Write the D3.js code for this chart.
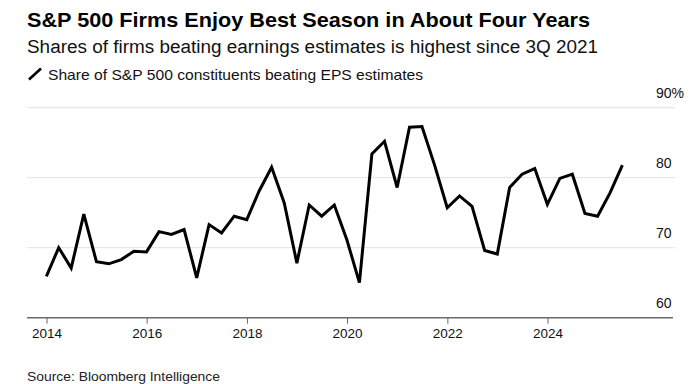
<!DOCTYPE html>
<html>
<head>
<meta charset="utf-8">
<script src="https://cdn.jsdelivr.net/npm/d3@7"></script>
<style>
  body { margin: 0; background: #fff; }
  svg { display: block; font-family: "Liberation Sans", Arial, sans-serif; }
</style>
</head>
<body>
<div id="chart"></div>
<script>
// quarterly share of S&P 500 members beating EPS estimates (%)
var quarters = [
  "2013-12-31","2014-03-31","2014-06-30","2014-09-30",
  "2014-12-31","2015-03-31","2015-06-30","2015-09-30",
  "2015-12-31","2016-03-31","2016-06-30","2016-09-30",
  "2016-12-31","2017-03-31","2017-06-30","2017-09-30",
  "2017-12-31","2018-03-31","2018-06-30","2018-09-30",
  "2018-12-31","2019-03-31","2019-06-30","2019-09-30",
  "2019-12-31","2020-03-31","2020-06-30","2020-09-30",
  "2020-12-31","2021-03-31","2021-06-30","2021-09-30",
  "2021-12-31","2022-03-31","2022-06-30","2022-09-30",
  "2022-12-31","2023-03-31","2023-06-30","2023-09-30",
  "2023-12-31","2024-03-31","2024-06-30","2024-09-30",
  "2024-12-31","2025-03-31","2025-06-30"
];
var beatShare = [
  65.9, 70.0, 67.1, 74.8,
  68.0, 67.7, 68.3, 69.5,
  69.4, 72.3, 71.9, 72.6,
  65.7, 73.3, 72.1, 74.5,
  74.0, 78.1, 81.5, 76.4,
  67.8, 76.1, 74.5, 76.1,
  71.1, 65.0, 83.4, 85.2,
  78.6, 87.2, 87.3, 81.8,
  75.7, 77.4, 75.9, 69.6,
  69.1, 78.6, 80.5, 81.3,
  76.2, 79.9, 80.5, 74.9,
  74.5, 77.8, 81.8
];
var yTicks = [60, 70, 80, 90];
var xTickYears = [2014, 2016, 2018, 2020, 2022, 2024];

var title = "S&P 500 Firms Enjoy Best Season in About Four Years";
var subtitle = "Shares of firms beating earnings estimates is highest since 3Q 2021";
var legendLabel = "Share of S&P 500 constituents beating EPS estimates";
var source = "Source: Bloomberg Intelligence";

var W = 695, H = 384;
var plotLeft = 27, plotRight = 675;

var svg = d3.select("#chart").append("svg")
  .attr("width", W)
  .attr("height", H);

var parse = d3.timeParse("%Y-%m-%d");
var data = quarters.map(function (q, i) {
  return { date: parse(q), value: beatShare[i] };
});

// x anchored on the 2014 and 2024 ticks
var x = d3.scaleTime()
  .domain([new Date(2014, 0, 1), new Date(2024, 0, 1)])
  .range([46.5, 547.5]);

var y = d3.scaleLinear()
  .domain([60, 90])
  .range([317.7, 107.7]);

// text helper, squeezes text to a measured width
function addText(str, opts) {
  var t = svg.append("text")
    .attr("x", opts.x)
    .attr("y", opts.y)
    .attr("font-size", opts.size)
    .attr("font-weight", opts.weight || "normal")
    .attr("fill", opts.fill || "#000")
    .text(str);
  if (opts.width) {
    t.attr("textLength", opts.width).attr("lengthAdjust", "spacingAndGlyphs");
  }
  return t;
}

addText(title, { x: 27, y: 26.7, size: 21, weight: "bold", width: 563 });
addText(subtitle, { x: 27, y: 53.3, size: 18, fill: "#111", width: 571 });

// legend
svg.append("line")
  .attr("x1", 29).attr("y1", 79.5)
  .attr("x2", 41).attr("y2", 68.5)
  .attr("stroke", "#000")
  .attr("stroke-width", 2.6);
addText(legendLabel, { x: 48, y: 79.5, size: 15, fill: "#111", width: 375 });

// gridlines
svg.append("g")
  .selectAll("line")
  .data(yTicks.slice(1))
  .join("line")
  .attr("x1", plotLeft).attr("x2", plotRight)
  .attr("y1", function (d) { return y(d); })
  .attr("y2", function (d) { return y(d); })
  .attr("stroke", "#e2e2e2")
  .attr("stroke-width", 1);

// y labels sit above their gridlines
svg.append("g")
  .selectAll("text")
  .data(yTicks)
  .join("text")
  .attr("x", 656)
  .attr("y", function (d) { return y(d) - 10; })
  .attr("font-size", 14)
  .attr("fill", "#111")
  .text(function (d) { return d === 90 ? d + "%" : d; });

// x axis
var xAxis = d3.axisBottom(x)
  .tickValues(xTickYears.map(function (yr) { return new Date(yr, 0, 1); }))
  .tickFormat(d3.timeFormat("%Y"))
  .tickSize(6)
  .tickPadding(5);

var gx = svg.append("g")
  .attr("transform", "translate(0," + y(60) + ")")
  .call(xAxis);
gx.select(".domain").remove();
gx.selectAll(".tick line").attr("stroke", "#666").attr("stroke-width", 1);
gx.selectAll(".tick text")
  .attr("font-size", 13.5)
  .attr("font-family", "Liberation Sans, Arial, sans-serif")
  .attr("fill", "#111");

svg.append("line")
  .attr("x1", plotLeft).attr("x2", 673)
  .attr("y1", y(60)).attr("y2", y(60))
  .attr("stroke", "#6b6b6b")
  .attr("stroke-width", 1.5);

// series line
var line = d3.line()
  .x(function (d) { return x(d.date); })
  .y(function (d) { return y(d.value); });

svg.append("path")
  .datum(data)
  .attr("d", line)
  .attr("fill", "none")
  .attr("stroke", "#000")
  .attr("stroke-width", 3)
  .attr("stroke-linejoin", "miter");

// reference crops this line at the bottom edge; kept just inside the frame
addText(source, { x: 27, y: 381, size: 13.5, fill: "#222", width: 193 });
</script>
</body>
</html>
